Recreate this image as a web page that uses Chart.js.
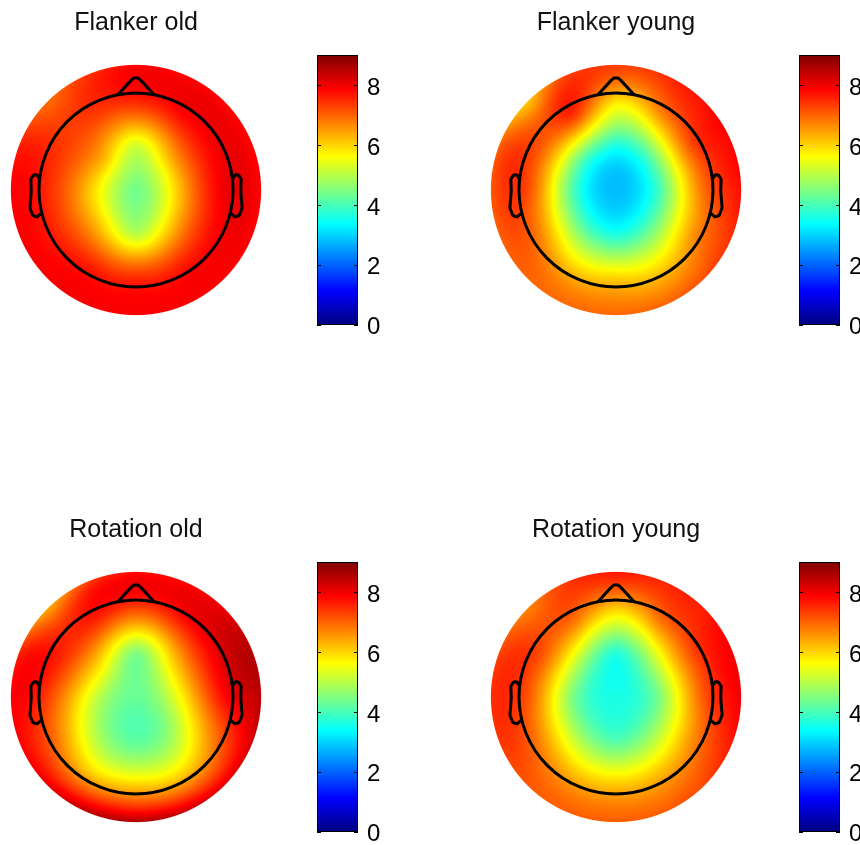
<!DOCTYPE html>
<html><head><meta charset="utf-8">
<script src="https://cdn.jsdelivr.net/npm/chart.js@4/dist/chart.umd.min.js"></script>
<style>
html,body{margin:0;padding:0;background:#fff;overflow:hidden;}
#wrap{position:relative;width:860px;height:845px;overflow:hidden;background:#fff;}
</style></head><body><div id="wrap"></div>
<script>
// ---- electrode layout (angle clockwise from nose, degrees; radius in head radii) ----
const electrodeAngles = [0,
  0,45,90,135,180,225,270,315,
  0,30,60,90,120,150,180,210,240,270,300,330,
  0,22.5,45,67.5,90,112.5,135,157.5,180,202.5,225,247.5,270,292.5,315,337.5];
const electrodeRadii = [0,
  0.45,0.45,0.45,0.45,0.45,0.45,0.45,0.45,
  0.9,0.9,0.9,0.9,0.9,0.9,0.9,0.9,0.9,0.9,0.9,0.9,
  1.25,1.25,1.25,1.25,1.25,1.25,1.25,1.25,1.25,1.25,1.25,1.25,1.25,1.25,1.25,1.25];

// ---- values per condition (same order as layout) ----
const flankerOld = [4.4,
  5.2,6.1,6.2,5.8,5.0,5.8,6.0,6.2,
  7.5,7.8,7.9,8.0,7.8,7.6,7.5,7.6,7.5,7.5,7.4,7.4,
  7.9,7.9,7.9,7.9,7.9,7.9,7.9,7.9,7.9,7.9,7.9,7.9,7.9,7.6,7.0,7.5];
const flankerYoung = [2.8,
  3.6,3.9,4.0,3.9,3.6,3.9,4.1,4.0,
  5.8,6.6,7.2,6.9,6.5,5.9,6.0,6.0,6.7,7.2,7.1,7.5,
  7.3,7.4,7.7,7.8,7.7,7.4,7.1,6.9,6.9,6.9,7.0,7.1,7.2,7.1,6.3,7.4];
const rotationOld = [4.3,
  4.5,5.6,5.6,4.6,4.2,4.6,5.3,5.6,
  7.2,7.6,7.9,7.8,6.7,5.9,6.0,6.0,6.7,7.3,7.6,7.6,
  7.9,7.9,8.1,8.5,8.4,8.1,7.9,8.1,8.3,8.2,7.9,7.8,7.9,7.6,6.6,7.5];
const rotationYoung = [3.6,
  3.7,4.5,4.5,4.4,4.1,4.4,4.5,4.5,
  6.0,6.8,7.2,7.1,6.6,6.2,6.1,6.2,6.7,7.1,7.2,6.9,
  7.6,7.5,7.6,7.9,7.9,7.6,7.2,7.0,7.0,7.0,7.1,7.4,7.5,7.3,6.8,7.4];

const panelTitles = ['Flanker old','Flanker young','Rotation old','Rotation young'];
const colorbarTicks = [0,2,4,6,8];
const cbMin = 0, cbMax = 9;

// ---- drawing constants ----
const DISK_R = 1.29;
const jetStops = [[0,'#000080'],[0.125,'#0000ff'],[0.375,'#00ffff'],[0.625,'#ffff00'],[0.875,'#ff0000'],[1,'#800000']];
function clamp01(v){return v<0?0:v>1?1:v;}
function jet(t){
  t = clamp01(t);
  return [clamp01(1.5-Math.abs(4*t-3))*255, clamp01(1.5-Math.abs(4*t-2))*255, clamp01(1.5-Math.abs(4*t-1))*255];
}
function green(d2){ return d2>0 ? d2*(0.5*Math.log(d2)-1) : 0; }
function solve(A,b){
  const n=b.length; const M=A.map((r,i)=>r.concat([b[i]]));
  for(let c=0;c<n;c++){
    let p=c; for(let r=c+1;r<n;r++) if(Math.abs(M[r][c])>Math.abs(M[p][c])) p=r;
    [M[c],M[p]]=[M[p],M[c]];
    for(let r=c+1;r<n;r++){ const f=M[r][c]/M[c][c]; for(let k=c;k<=n;k++) M[r][k]-=f*M[c][k]; }
  }
  const x=new Array(n).fill(0);
  for(let r=n-1;r>=0;r--){ let s=M[r][n]; for(let k=r+1;k<n;k++) s-=M[r][k]*x[k]; x[r]=s/M[r][r]; }
  return x;
}

// head outline shape (EEGLAB-style, head radius = 1)
const noseX=[0.18,0.05,0.02,-0.02,-0.05,-0.18], noseY=[0.99,1.13,1.155,1.155,1.13,0.99];
const earX=[.994,1.02,1.036,1.06,1.084,1.08,1.094,1.064,1.02,.978];
const earY=[.111,.155,.157,.149,.111,-.011,-.186,-.263,-.277,-.240];

const topoPlugin = {
  id:'topo',
  beforeDatasetsDraw(chart){
    const {ctx, scales:{x,y}} = chart;
    const pts = chart.data.datasets[0].data;
    const n = pts.length;
    const G = pts.map(p=>pts.map(q=>green((p.x-q.x)**2+(p.y-q.y)**2)));
    const w = solve(G, pts.map(p=>p.v));
    const cx=x.getPixelForValue(0), cy=y.getPixelForValue(0);
    const unit=x.getPixelForValue(1)-cx;
    const rD=DISK_R*unit;
    const x0=Math.floor(cx-rD-2), y0=Math.floor(cy-rD-2), size=Math.ceil(2*rD+5);
    const off=document.createElement('canvas'); off.width=size; off.height=size;
    const octx=off.getContext('2d'); const img=octx.createImageData(size,size);
    for(let j=0;j<size;j++){
      for(let i=0;i<size;i++){
        const px=x0+i+0.5, py=y0+j+0.5;
        const dp=Math.hypot(px-cx,py-cy);
        const a=clamp01(rD-dp+0.5);
        if(a<=0) continue;
        const hx=x.getValueForPixel(px), hy=y.getValueForPixel(py);
        let v=0;
        for(let k=0;k<n;k++){ v+=w[k]*green((hx-pts[k].x)**2+(hy-pts[k].y)**2); }
        const c=jet((v-cbMin)/(cbMax-cbMin));
        const o=(j*size+i)*4;
        img.data[o]=c[0]; img.data[o+1]=c[1]; img.data[o+2]=c[2]; img.data[o+3]=Math.round(a*255);
      }
    }
    octx.putImageData(img,0,0);
    ctx.drawImage(off,x0,y0);
  },
  afterDatasetsDraw(chart){
    const {ctx, scales:{x,y}} = chart;
    const X=v=>x.getPixelForValue(v), Y=v=>y.getPixelForValue(v);
    ctx.save();
    ctx.strokeStyle='#000'; ctx.lineWidth=3; ctx.lineJoin='round'; ctx.lineCap='round';
    ctx.beginPath(); ctx.arc(X(0),Y(0),X(1)-X(0),0,Math.PI*2); ctx.stroke();
    ctx.beginPath(); noseX.forEach((v,i)=>{ i?ctx.lineTo(X(v),Y(noseY[i])):ctx.moveTo(X(v),Y(noseY[i])); }); ctx.stroke();
    [1,-1].forEach(s=>{ ctx.beginPath(); earX.forEach((v,i)=>{ i?ctx.lineTo(X(s*v),Y(earY[i])):ctx.moveTo(X(s*v),Y(earY[i])); }); ctx.stroke(); });
    ctx.restore();
  }
};

const cbPlugin = {
  id:'cbTicks',
  afterDatasetsDraw(chart){
    const {ctx, chartArea:a, scales:{y}} = chart;
    ctx.save(); ctx.strokeStyle='#000'; ctx.lineWidth=1;
    y.ticks.forEach(t=>{
      const py=Math.round(y.getPixelForValue(t.value))+0.5;
      ctx.beginPath(); ctx.moveTo(a.left,py); ctx.lineTo(a.left+4,py);
      ctx.moveTo(a.right-4,py); ctx.lineTo(a.right,py); ctx.stroke();
    });
    ctx.strokeRect(Math.round(a.left)+0.5, Math.round(a.top)+0.5, Math.round(a.right-a.left)-1, Math.round(a.bottom-a.top));
    ctx.restore();
  }
};

const wrap=document.getElementById('wrap');
function makeCanvas(left,top,w,h){
  const c=document.createElement('canvas'); c.width=w; c.height=h;
  c.style.cssText=`position:absolute;left:${left}px;top:${top}px;width:${w}px;height:${h}px`;
  wrap.appendChild(c); return c;
}

const allValues=[flankerOld,flankerYoung,rotationOld,rotationYoung];
const panelPos=[[0,0],[480,0],[0,507],[480,507]];
const FONT='"Liberation Sans", Arial, Helvetica, sans-serif';

allValues.forEach((vals,p)=>{
  const [L,T]=panelPos[p];
  const data=vals.map((v,i)=>{
    const th=electrodeAngles[i]*Math.PI/180, r=electrodeRadii[i];
    return {x:r*Math.sin(th), y:r*Math.cos(th), v:v};
  });
  new Chart(makeCanvas(L,T,272,330),{
    type:'scatter',
    data:{datasets:[{data:data, pointRadius:0, showLine:false}]},
    options:{
      responsive:false, animation:false, devicePixelRatio:1,
      layout:{padding:{left:9.9,right:9.9,top:0,bottom:13.9}},
      scales:{x:{type:'linear',min:-1.3,max:1.3,display:false},y:{type:'linear',min:-1.3,max:1.3,display:false}},
      plugins:{legend:{display:false},tooltip:{enabled:false},
        title:{display:true,text:panelTitles[p],color:'#111',font:{family:FONT,size:25,weight:'normal'},padding:{top:8,bottom:25.9}}}
    },
    plugins:[topoPlugin]
  });

  // colorbar
  new Chart(makeCanvas(L===0?300:782,T+32,99,316),{
    type:'bar',
    data:{labels:[''],datasets:[{data:[[cbMin,cbMax]],
      backgroundColor:(c)=>{
        const ch=c.chart; if(!ch.chartArea) return '#000';
        const ys=ch.scales.y;
        const g=ch.ctx.createLinearGradient(0,ys.getPixelForValue(cbMin),0,ys.getPixelForValue(cbMax));
        jetStops.forEach(s=>g.addColorStop(s[0],s[1])); return g;
      },
      borderWidth:0, barPercentage:1, categoryPercentage:1}]},
    options:{
      responsive:false, animation:false, devicePixelRatio:1,
      layout:{padding:{left:17,right:0,top:7,bottom:7}},
      scales:{
        x:{display:false},
        y:{position:'right',min:cbMin,max:cbMax,
           afterFit:(s)=>{s.width=41;},
           afterBuildTicks:(s)=>{s.ticks=colorbarTicks.map(v=>({value:v}));},
           grid:{display:false,drawTicks:false},border:{display:false},
           ticks:{color:'#000',padding:9,labelOffset:3,font:{family:FONT,size:24}}}
      },
      plugins:{legend:{display:false},tooltip:{enabled:false},title:{display:false}}
    },
    plugins:[cbPlugin]
  });
});
</script></body></html>
